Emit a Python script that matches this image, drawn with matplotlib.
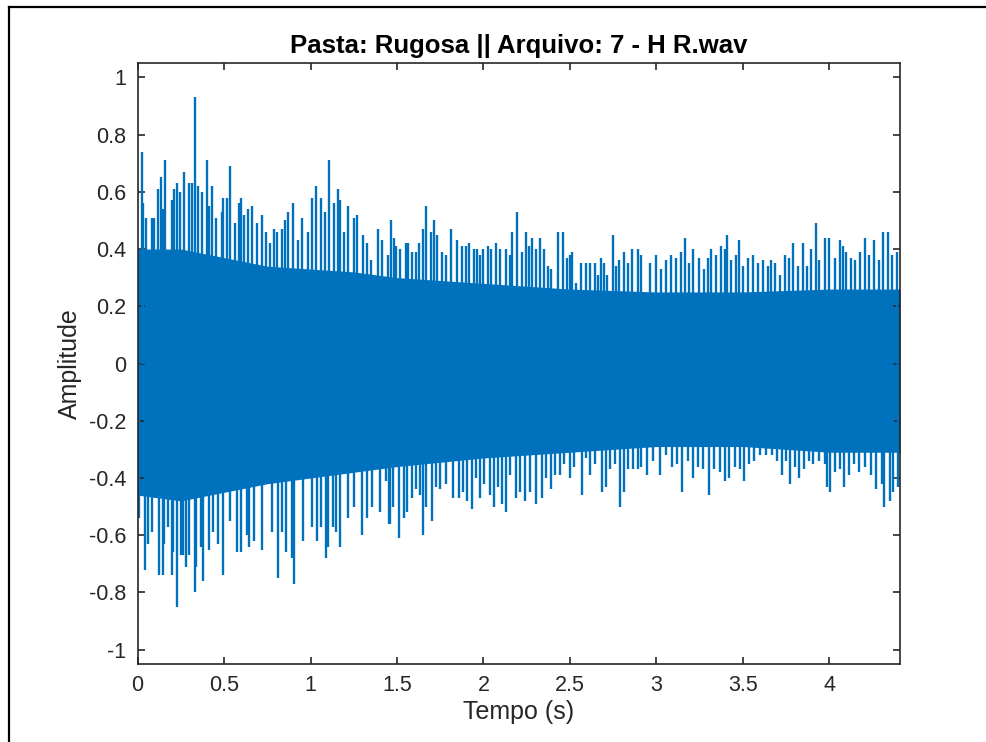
# waveform plot: Pasta Rugosa, arquivo 7 - H R.wav

import numpy as np
import matplotlib
matplotlib.use("Agg")
import matplotlib.pyplot as plt
from matplotlib.lines import Line2D

plt.rcParams['font.family'] = ['Liberation Sans', 'DejaVu Sans']

# dense core of the signal (nearly solid band)
core_t = [0.0, 0.25, 0.5, 0.75, 1.0, 1.25, 1.5, 2.0, 2.5, 3.0, 3.5, 4.0, 4.41]
core_hi = [0.40, 0.40, 0.37, 0.34, 0.33, 0.32, 0.30, 0.28, 0.26, 0.25, 0.25, 0.26, 0.26]
core_lo = [-0.46, -0.48, -0.45, -0.42, -0.40, -0.38, -0.36, -0.33, -0.31, -0.29, -0.29, -0.31, -0.31]

# positive peaks (time s, amplitude)
top_t = [0.023, 0.033, 0.046, 0.081, 0.094, 0.115, 0.133, 0.144, 0.156, 0.196, 0.212, 0.225,
         0.245, 0.268, 0.298, 0.316, 0.331, 0.350, 0.370, 0.401, 0.414, 0.431, 0.453, 0.485,
         0.495, 0.514, 0.533, 0.564, 0.586, 0.597, 0.614, 0.639, 0.664, 0.691, 0.720, 0.745,
         0.765, 0.790, 0.807, 0.832, 0.853, 0.871, 0.900, 0.925, 0.952, 0.983, 1.006, 1.031,
         1.063, 1.085, 1.106, 1.135, 1.160, 1.169, 1.192, 1.217, 1.250, 1.269, 1.304, 1.327,
         1.352, 1.391, 1.414, 1.449,
         1.468, 1.482, 1.497, 1.516, 1.551, 1.566, 1.584, 1.609, 1.628, 1.651, 1.665, 1.694,
         1.713, 1.734, 1.763, 1.783, 1.815, 1.848, 1.878, 1.901, 1.915, 1.944, 1.963, 1.978,
         1.998, 2.027, 2.046, 2.075, 2.094, 2.129, 2.152, 2.167, 2.196, 2.221, 2.248, 2.264,
         2.279, 2.302, 2.329, 2.348, 2.374, 2.393, 2.431, 2.460, 2.485, 2.503, 2.514, 2.537,
         2.566, 2.595, 2.618, 2.643, 2.663, 2.682, 2.695, 2.715, 2.749, 2.765, 2.784, 2.811,
         2.836, 2.861, 2.894,
         2.913, 2.961, 2.996, 3.029, 3.058, 3.083, 3.112, 3.144, 3.164, 3.189, 3.215, 3.246,
         3.275, 3.298, 3.318, 3.347, 3.375, 3.395, 3.410, 3.433, 3.462, 3.478, 3.504, 3.530,
         3.562, 3.587, 3.616, 3.645, 3.664, 3.689, 3.713, 3.742, 3.766, 3.793, 3.819, 3.847,
         3.873, 3.896, 3.925, 3.944, 3.977, 3.998, 4.031, 4.060, 4.079, 4.098, 4.127, 4.152,
         4.179, 4.210, 4.233, 4.262, 4.287, 4.314, 4.339, 4.364, 4.391]
top_v = [0.74, 0.56, 0.51, 0.51, 0.51, 0.61, 0.65, 0.54, 0.71, 0.57, 0.61, 0.63,
         0.60, 0.67, 0.63, 0.63, 0.93, 0.62, 0.60, 0.71, 0.55, 0.62, 0.51, 0.53,
         0.58, 0.58, 0.69, 0.49, 0.56, 0.58, 0.52, 0.54, 0.55, 0.49, 0.52, 0.46,
         0.42, 0.47, 0.46, 0.47, 0.50, 0.53, 0.56, 0.43, 0.51, 0.46, 0.58, 0.62,
         0.58, 0.53, 0.71, 0.56, 0.61, 0.57, 0.46, 0.55, 0.51, 0.52, 0.45, 0.42,
         0.36, 0.47, 0.43, 0.38,
         0.50, 0.44, 0.41, 0.40, 0.42, 0.42, 0.39, 0.39, 0.42, 0.47, 0.55, 0.46,
         0.50, 0.45, 0.39, 0.38, 0.47, 0.43, 0.41, 0.41, 0.42, 0.40, 0.40, 0.38,
         0.40, 0.41, 0.40, 0.42, 0.40, 0.40, 0.38, 0.46, 0.53, 0.39, 0.46, 0.41,
         0.44, 0.40, 0.44, 0.40, 0.34, 0.33, 0.46, 0.46, 0.37, 0.38, 0.39, 0.28,
         0.35, 0.35, 0.35, 0.35, 0.31, 0.37, 0.35, 0.31, 0.45, 0.34, 0.36, 0.39,
         0.35, 0.40, 0.40,
         0.38, 0.35, 0.38, 0.33, 0.36, 0.38, 0.37, 0.39, 0.44, 0.35, 0.40, 0.37,
         0.33, 0.37, 0.40, 0.38, 0.41, 0.40, 0.45, 0.36, 0.38, 0.43, 0.34, 0.37,
         0.38, 0.35, 0.36, 0.34, 0.36, 0.35, 0.31, 0.38, 0.37, 0.42, 0.34, 0.42,
         0.34, 0.40, 0.49, 0.36, 0.44, 0.44, 0.37, 0.43, 0.41, 0.39, 0.37, 0.36,
         0.39, 0.44, 0.38, 0.43, 0.36, 0.46, 0.46, 0.38, 0.39]

# negative peaks (time s, amplitude)
bot_t = [0.008, 0.042, 0.061, 0.081, 0.123, 0.144, 0.154, 0.173, 0.196, 0.206, 0.225, 0.250,
         0.264, 0.279, 0.298, 0.331, 0.337, 0.364, 0.379, 0.412, 0.437, 0.462, 0.495, 0.533,
         0.576, 0.595, 0.630, 0.645, 0.672, 0.720, 0.778, 0.809, 0.834, 0.857, 0.890, 0.907,
         0.957, 1.006, 1.040, 1.063, 1.092, 1.102, 1.127, 1.150, 1.173, 1.214, 1.250, 1.295,
         1.324, 1.358, 1.404, 1.454,
         1.439, 1.458, 1.478, 1.510, 1.539, 1.558, 1.587, 1.612, 1.632, 1.653, 1.670, 1.701,
         1.724, 1.747, 1.786, 1.825, 1.857, 1.882, 1.905, 1.936, 1.959, 1.978, 2.002, 2.037,
         2.059, 2.084, 2.110, 2.129, 2.156, 2.187, 2.210, 2.239, 2.267, 2.306, 2.339, 2.364,
         2.389, 2.412, 2.441, 2.464, 2.501, 2.526, 2.572, 2.595, 2.618, 2.647, 2.688, 2.707,
         2.734, 2.759, 2.788, 2.811, 2.836, 2.865, 2.894,
         2.913, 2.946, 2.980, 3.023, 3.058, 3.092, 3.121, 3.150, 3.183, 3.212, 3.241, 3.269,
         3.304, 3.331, 3.366, 3.395, 3.420, 3.453, 3.482, 3.510, 3.539, 3.568, 3.597, 3.632,
         3.670, 3.697, 3.728, 3.751, 3.774, 3.805, 3.828, 3.857, 3.882, 3.909, 3.940, 3.973,
         3.986, 4.005, 4.031, 4.060, 4.083, 4.114, 4.146, 4.175, 4.210, 4.242, 4.271, 4.306,
         4.320, 4.349, 4.372, 4.397]
bot_v = [-0.54, -0.72, -0.63, -0.59, -0.74, -0.74, -0.63, -0.57, -0.74, -0.66, -0.85, -0.67,
         -0.67, -0.71, -0.67, -0.80, -0.71, -0.64, -0.76, -0.65, -0.59, -0.63, -0.74, -0.55,
         -0.66, -0.66, -0.60, -0.64, -0.62, -0.65, -0.59, -0.75, -0.59, -0.66, -0.68, -0.77,
         -0.62, -0.57, -0.62, -0.57, -0.68, -0.64, -0.57, -0.59, -0.64, -0.54, -0.50, -0.60,
         -0.54, -0.50, -0.52, -0.56,
         -0.41, -0.56, -0.50, -0.61, -0.54, -0.52, -0.47, -0.44, -0.46, -0.60, -0.50, -0.55,
         -0.43, -0.44, -0.42, -0.47, -0.47, -0.45, -0.48, -0.51, -0.40, -0.47, -0.42, -0.46,
         -0.50, -0.43, -0.49, -0.52, -0.39, -0.47, -0.45, -0.48, -0.45, -0.49, -0.47, -0.40,
         -0.44, -0.39, -0.39, -0.35, -0.40, -0.36, -0.46, -0.33, -0.39, -0.35, -0.45, -0.43,
         -0.37, -0.35, -0.50, -0.45, -0.37, -0.37, -0.37,
         -0.36, -0.39, -0.34, -0.39, -0.32, -0.36, -0.35, -0.45, -0.34, -0.40, -0.36, -0.37,
         -0.46, -0.37, -0.38, -0.41, -0.40, -0.36, -0.37, -0.41, -0.35, -0.34, -0.32, -0.32,
         -0.32, -0.34, -0.39, -0.34, -0.42, -0.36, -0.40, -0.37, -0.34, -0.35, -0.34, -0.35,
         -0.43, -0.45, -0.38, -0.37, -0.43, -0.39, -0.35, -0.38, -0.36, -0.39, -0.44, -0.42,
         -0.50, -0.48, -0.45, -0.43]

yticks = [-1, -0.8, -0.6, -0.4, -0.2, 0, 0.2, 0.4, 0.6, 0.8, 1]
ytick_labels = ['-1', '-0.8', '-0.6', '-0.4', '-0.2', '0', '0.2', '0.4', '0.6', '0.8', '1']
xticks = [0, 0.5, 1, 1.5, 2, 2.5, 3, 3.5, 4]
xtick_labels = ['0', '0.5', '1', '1.5', '2', '2.5', '3', '3.5', '4']

blue = '#0072BD'
dark = '#262626'

fig = plt.figure(figsize=(9.87, 7.42), dpi=100)
ax = fig.add_axes([0.1395, 0.1051, 0.7724, 0.81])

ax.fill_between(core_t, core_lo, core_hi, color=blue, linewidth=0)
ax.vlines(top_t, 0, top_v, color=blue, linewidth=1.7)
ax.vlines(bot_t, 0, bot_v, color=blue, linewidth=1.7)

ax.set_xlim(0, 4.41)
ax.set_ylim(-1.05, 1.05)
ax.set_xticks(xticks)
ax.set_xticklabels(xtick_labels)
ax.set_yticks(yticks)
ax.set_yticklabels(ytick_labels)
ax.tick_params(direction='in', length=5, width=1.2, colors=dark, labelsize=15.5,
               top=True, right=True, pad=8)
for s in ax.spines.values():
    s.set_color(dark)
    s.set_linewidth(1.2)

ax.set_title('Pasta: Rugosa || Arquivo: 7 - H R.wav', fontsize=18.5, fontweight='bold',
             color='black', pad=7)
ax.set_xlabel('Tempo (s)', fontsize=18, color=dark, labelpad=3)
ax.set_ylabel('Amplitude', fontsize=18, color=dark, labelpad=5)

# frame around the figure (left and top edges visible)
fig.add_artist(Line2D([9 / 987, 9 / 987], [0, 1 - 7 / 742], color='black', linewidth=1.6,
                      transform=fig.transFigure))
fig.add_artist(Line2D([9 / 987, 1], [1 - 7 / 742, 1 - 7 / 742], color='black', linewidth=1.6,
                      transform=fig.transFigure))

fig.savefig('out.png', dpi=100)
